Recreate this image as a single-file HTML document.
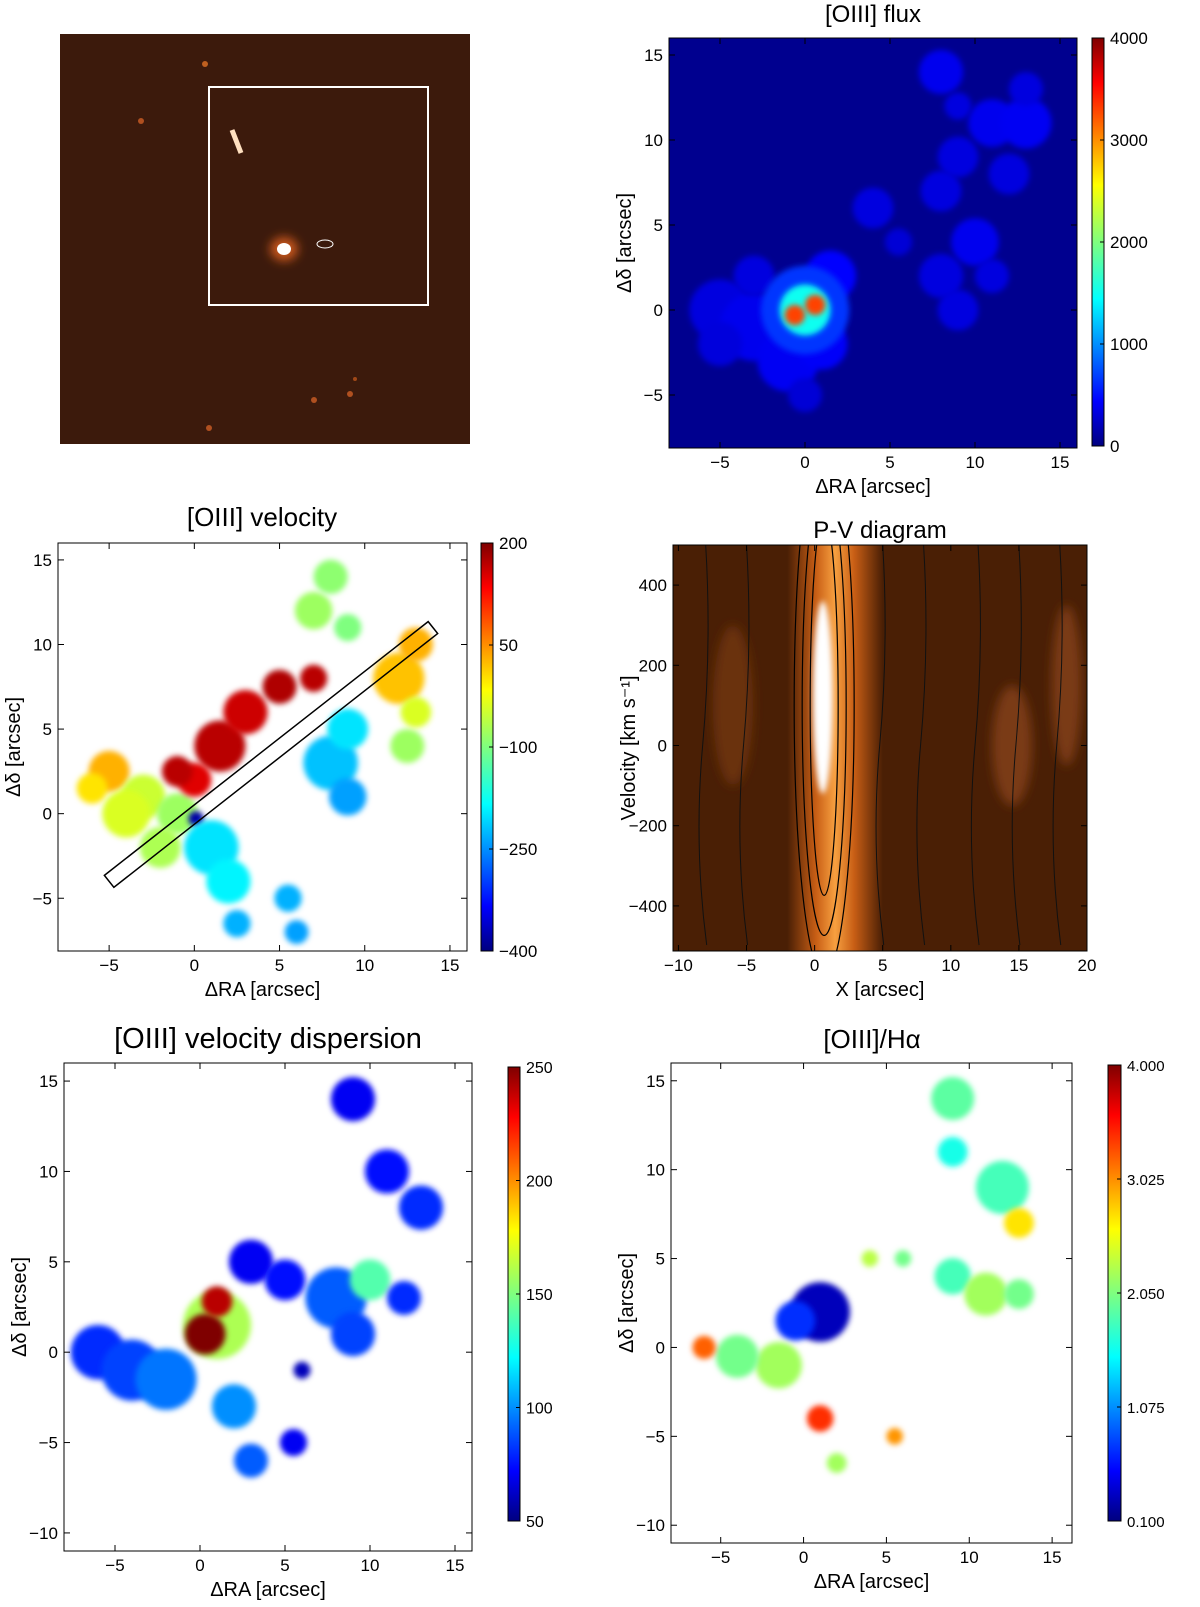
<!DOCTYPE html>
<html><head><meta charset="utf-8"><style>
body{margin:0;background:#fff}
svg text{font-family:"Liberation Sans",sans-serif;fill:#000}
</style></head><body>
<svg id="s" width="1200" height="1602" viewBox="0 0 1200 1602" xmlns="http://www.w3.org/2000/svg">
<defs>
<linearGradient id="jet" x1="0" y1="1" x2="0" y2="0">
<stop offset="0" stop-color="#00007f"/><stop offset="0.11" stop-color="#0000ff"/><stop offset="0.36" stop-color="#00ffff"/><stop offset="0.5" stop-color="#7fff7f"/><stop offset="0.64" stop-color="#ffff00"/><stop offset="0.89" stop-color="#ff0000"/><stop offset="1" stop-color="#7f0000"/>
</linearGradient>
<filter id="bl" x="-50%" y="-50%" width="200%" height="200%"><feGaussianBlur stdDeviation="5"/></filter>
<filter id="bl2" x="-50%" y="-50%" width="200%" height="200%"><feGaussianBlur stdDeviation="3"/></filter>
<linearGradient id="pvband" x1="0" y1="0" x2="1" y2="0">
<stop offset="0" stop-color="#4a1f05"/><stop offset="0.3" stop-color="#c85e15"/><stop offset="0.5" stop-color="#f7a040"/><stop offset="0.7" stop-color="#c85e15"/><stop offset="1" stop-color="#4a1f05"/>
</linearGradient>
<clipPath id="c2"><rect x="669" y="38" width="408" height="410"/></clipPath>
<clipPath id="c3"><rect x="58" y="543" width="409" height="408"/></clipPath>
<clipPath id="c4"><rect x="673" y="545" width="414" height="406"/></clipPath>
<clipPath id="c5"><rect x="64" y="1063" width="408" height="488"/></clipPath>
<clipPath id="c6"><rect x="671" y="1063" width="401" height="480"/></clipPath>
</defs>
<g>
<rect x="60" y="34" width="410" height="410" fill="#3c1a0c"/>
<rect x="209" y="87" width="219" height="218" fill="none" stroke="#fff" stroke-width="2"/>
<ellipse cx="284" cy="249" rx="14" ry="12" fill="#c8561a" filter="url(#bl)"/>
<ellipse cx="284" cy="249" rx="7" ry="6" fill="#fff"/>
<line x1="232" y1="130" x2="241" y2="153" stroke="#ffe0c0" stroke-width="5"/>
<circle cx="205" cy="64" r="3" fill="#c06020"/><circle cx="141" cy="121" r="3" fill="#b05020"/>
<circle cx="314" cy="400" r="3" fill="#b05020"/><circle cx="350" cy="394" r="3" fill="#b05020"/>
<circle cx="209" cy="428" r="3" fill="#b05020"/><circle cx="355" cy="379" r="2" fill="#a04818"/>
<ellipse cx="325" cy="244" rx="8" ry="4" fill="none" stroke="#fff" stroke-width="1"/>
</g>
<g id="p2" clip-path="url(#c2)"><rect x="669" y="38" width="408" height="410" fill="#00008f"/></g>
<g id="p3" clip-path="url(#c3)"></g>
<g id="p4" clip-path="url(#c4)"></g>
<g id="p5" clip-path="url(#c5)"></g>
<g id="p6" clip-path="url(#c6)"></g>
<g id="axes"></g>
</svg>
<script>
const fluxBlobs=[[-5,0,1.8,330],[-3,-1,2,380],[-5,-2,1.3,320],[-1,-3,1.8,400],[-3,2,1.2,330],[1,-2,1.5,420],[0,-5,1,300],[1.5,2,1.5,450],[0,0,2.6,650],[0,0,1.5,1500],[-0.6,-0.3,0.6,3300],[0.6,0.3,0.6,3300],[4,6,1.2,330],[5.5,4,0.8,300],[8,2,1.3,330],[9,0,1.2,330],[10,4,1.4,380],[11,2,1,330],[8,7,1.2,330],[9,9,1.2,330],[11,11,1.4,380],[13,11,1.5,400],[12,8,1.2,330],[13,13,1,330],[8,14,1.3,380],[9,12,0.8,330]];
const velBlobs=[[-5,2.5,1.2,30],[-6,1.5,0.9,0],[-3,1,1.3,-50],[-1,0,1.2,-80],[-4,0,1.4,-40],[-2,-2,1.2,-70],[1.5,4,1.5,170],[3,6,1.3,160],[0,2,1,150],[-1,2.5,0.9,170],[5,7.5,1,175],[7,8,0.8,170],[0.1,-0.3,0.45,-380],[1,-2,1.6,-200],[2,-4,1.3,-190],[2.5,-6.5,0.8,-230],[5.5,-5,0.8,-230],[6,-7,0.7,-240],[8,3,1.6,-220],[9,5,1.2,-200],[9,1,1.1,-240],[7,12,1.1,-80],[8,14,1,-90],[9,11,0.8,-100],[12,8,1.5,20],[13,10,1,30],[12.5,4,1,-80],[13,6,0.9,-40]];
const dispBlobs=[[-6,0,1.6,80],[-4,-1,1.8,85],[-2,-1.5,1.8,95],[1,1.5,2,160],[0.3,1,1.2,250],[1,2.8,0.9,240],[2,-3,1.3,100],[3,-6,1,90],[5.5,-5,0.8,70],[3,5,1.3,70],[5,4,1.2,75],[8,3,1.8,90],[10,4,1.2,140],[9,1,1.3,85],[12,3,1,80],[9,14,1.3,70],[11,10,1.3,75],[13,8,1.3,80],[6,-1,0.5,60]];
const ratioBlobs=[[1,2,1.8,0.3],[-0.5,1.5,1.2,0.7],[-1.5,-1,1.4,2.2],[-4,-0.5,1.3,2.0],[-6,0,0.7,3.2],[1,-4,0.8,3.4],[2,-6.5,0.6,2.2],[9,14,1.3,1.9],[9,11,0.9,1.6],[12,9,1.6,1.8],[13,7,0.9,2.7],[9,4,1.1,1.8],[11,3,1.3,2.2],[13,3,0.9,2.0],[4,5,0.5,2.3],[6,5,0.5,2.0],[5.5,-5,0.5,3.0]];
const pvBand=[0,3];
const pvWhite=[-120,360];

const svg=document.getElementById('s');
const NS='http://www.w3.org/2000/svg';
function jet(t){t=Math.max(0,Math.min(1,t));const st=[[0,[0,0,127]],[0.11,[0,0,255]],[0.36,[0,255,255]],[0.5,[127,255,127]],[0.64,[255,255,0]],[0.89,[255,0,0]],[1,[127,0,0]]];for(let i=1;i<st.length;i++){if(t<=st[i][0]){const a=st[i-1],b=st[i],f=(t-a[0])/(b[0]-a[0]);return 'rgb('+a[1].map((v,k)=>Math.round(v+f*(b[1][k]-v))).join(',')+')';}}return 'rgb(127,0,0)';}
function mk(tag,at,parent){const e=document.createElementNS(NS,tag);for(const k in at)e.setAttribute(k,at[k]);(parent||svg).appendChild(e);return e;}
function axis(px0,px1,d0,d1){return v=>px0+(v-d0)/(d1-d0)*(px1-px0);}
function blobs(gid,data,sx,sy,vmin,vmax,blur){const g=document.getElementById(gid);const k=Math.abs(sx(1)-sx(0));data.forEach(b=>{const c=mk('ellipse',{cx:sx(b[0]),cy:sy(b[1]),rx:b[2]*k,ry:b[2]*k,fill:jet((b[3]-vmin)/(vmax-vmin)),filter:blur},g);});}
function frame(x,y,w,h,xt,yt,sx,sy,xl,yl,title,tx,ty,fs){const g=document.getElementById('axes');mk('rect',{x,y,width:w,height:h,fill:'none',stroke:'#000','stroke-width':1},g);
xt.forEach(v=>{const X=sx(v);mk('line',{x1:X,y1:y+h,x2:X,y2:y+h-6,stroke:'#000'},g);mk('line',{x1:X,y1:y,x2:X,y2:y+6,stroke:'#000'},g);const t=mk('text',{x:X,y:y+h+20,'text-anchor':'middle','font-size':17},g);t.textContent=(v<0?'\u2212':'')+Math.abs(v);});
yt.forEach(v=>{const Y=sy(v);mk('line',{x1:x,y1:Y,x2:x+6,y2:Y,stroke:'#000'},g);mk('line',{x1:x+w,y1:Y,x2:x+w-6,y2:Y,stroke:'#000'},g);const t=mk('text',{x:x-6,y:Y+6,'text-anchor':'end','font-size':17},g);t.textContent=(v<0?'\u2212':'')+Math.abs(v);});
let t=mk('text',{x:x+w/2,y:y+h+45,'text-anchor':'middle','font-size':20},g);t.textContent=xl;
t=mk('text',{x:0,y:0,'text-anchor':'middle','font-size':20,transform:'translate('+(x-38)+','+(y+h/2)+') rotate(-90)'},g);t.textContent=yl;
t=mk('text',{x:tx,y:ty,'text-anchor':'middle','font-size':fs},g);t.textContent=title;}
function cbar(x,y,w,h,labels,fs){const g=document.getElementById('axes');const r=mk('rect',{x,y,width:w,height:h,fill:'url(#jet)',stroke:'#000'},g);
labels.forEach((l,i)=>{const Y=y+h-i*h/(labels.length-1);mk('line',{x1:x+w-4,y1:Y,x2:x+w,y2:Y,stroke:'#000'},g);const t=mk('text',{x:x+w+6,y:Y+6,'font-size':fs},g);t.textContent=l;});}

let sx=axis(669,1077,-8,16),sy=axis(446,38,-8,16);
blobs('p2',fluxBlobs,sx,sy,0,4000,'url(#bl2)');
frame(669,38,408,410,[-5,0,5,10,15],[-5,0,5,10,15],sx,sy,'\u0394RA [arcsec]','\u0394\u03b4 [arcsec]','[OIII] flux',873,22,24);
cbar(1092,38,12,408,['0','1000','2000','3000','4000'],17);

sx=axis(58,467,-8,16);sy=axis(949,543,-8,16);
blobs('p3',velBlobs,sx,sy,-400,200,'url(#bl2)');
(function(){const g=document.getElementById('p3');const a=[-5,-4],b=[14,11],w=0.9;const dx=b[0]-a[0],dy=b[1]-a[1],L=Math.hypot(dx,dy),nx=-dy/L*w/2,ny=dx/L*w/2;
const p=[[a[0]+nx,a[1]+ny],[b[0]+nx,b[1]+ny],[b[0]-nx,b[1]-ny],[a[0]-nx,a[1]-ny]].map(q=>sx(q[0])+','+sy(q[1])).join(' ');
const s=mk('polygon',{points:p,fill:'none',stroke:'#000','stroke-width':1.5},g);})();
frame(58,543,409,408,[-5,0,5,10,15],[-5,0,5,10,15],sx,sy,'\u0394RA [arcsec]','\u0394\u03b4 [arcsec]','[OIII] velocity',262,526,26);
cbar(481,543,12,408,['\u2212400','\u2212250','\u2212100','50','200'],17);

sx=axis(673,1087,-10.4,20);sy=axis(946,545,-500,500);
(function(){const g=document.getElementById('p4');mk('rect',{x:673,y:545,width:414,height:406,fill:'#4a1f05'},g);
mk('ellipse',{cx:sx(14.5),cy:sy(0),rx:20,ry:60,fill:'#7a3a12',filter:'url(#bl)'},g);
mk('ellipse',{cx:sx(-6),cy:sy(100),rx:20,ry:80,fill:'#6a3010',filter:'url(#bl)'},g);
mk('ellipse',{cx:sx(18.5),cy:sy(150),rx:15,ry:80,fill:'#7a3a12',filter:'url(#bl)'},g);
const b=mk('rect',{x:sx(pvBand[0]-2),y:545,width:sx(pvBand[1]+2)-sx(pvBand[0]-2),height:406,fill:'url(#pvband)'},g);
const wc=mk('ellipse',{cx:sx(0.6),cy:sy((pvWhite[0]+pvWhite[1])/2),rx:10,ry:(sy(pvWhite[0])-sy(pvWhite[1]))/2,fill:'#fff',filter:'url(#bl2)'},g);
[1,2,3].forEach(i=>{mk('ellipse',{cx:sx(0.7),cy:sy(100),rx:6+i*8,ry:150+i*40,fill:'none',stroke:'#000','stroke-width':1.2},g);});
[-8,-5,5,8,12,15,18].forEach(v=>mk('path',{d:'M'+sx(v)+' 545 q 6 100 -3 200 t 4 200',fill:'none',stroke:'#111','stroke-width':1},g));})();
frame(673,545,414,406,[-10,-5,0,5,10,15,20],[-400,-200,0,200,400],sx,sy,'X [arcsec]','Velocity [km s\u207b\u00b9]','P-V diagram',880,538,24);

sx=axis(64,472,-8,16);sy=axis(1551,1063,-11,16);
blobs('p5',dispBlobs,sx,sy,50,250,'url(#bl2)');
frame(64,1063,408,488,[-5,0,5,10,15],[-10,-5,0,5,10,15],sx,sy,'\u0394RA [arcsec]','\u0394\u03b4 [arcsec]','[OIII] velocity dispersion',268,1048,29);
cbar(508,1067,12,454,['50','100','150','200','250'],16);

sx=axis(671,1072,-8,16.2);sy=axis(1543,1063,-11,16);
blobs('p6',ratioBlobs,sx,sy,0.1,4.0,'url(#bl2)');
frame(671,1063,401,480,[-5,0,5,10,15],[-10,-5,0,5,10,15],sx,sy,'\u0394RA [arcsec]','\u0394\u03b4 [arcsec]','[OIII]/H\u03b1',872,1048,26);
cbar(1108,1065,13,456,['0.100','1.075','2.050','3.025','4.000'],15);
</script>
</body></html>
